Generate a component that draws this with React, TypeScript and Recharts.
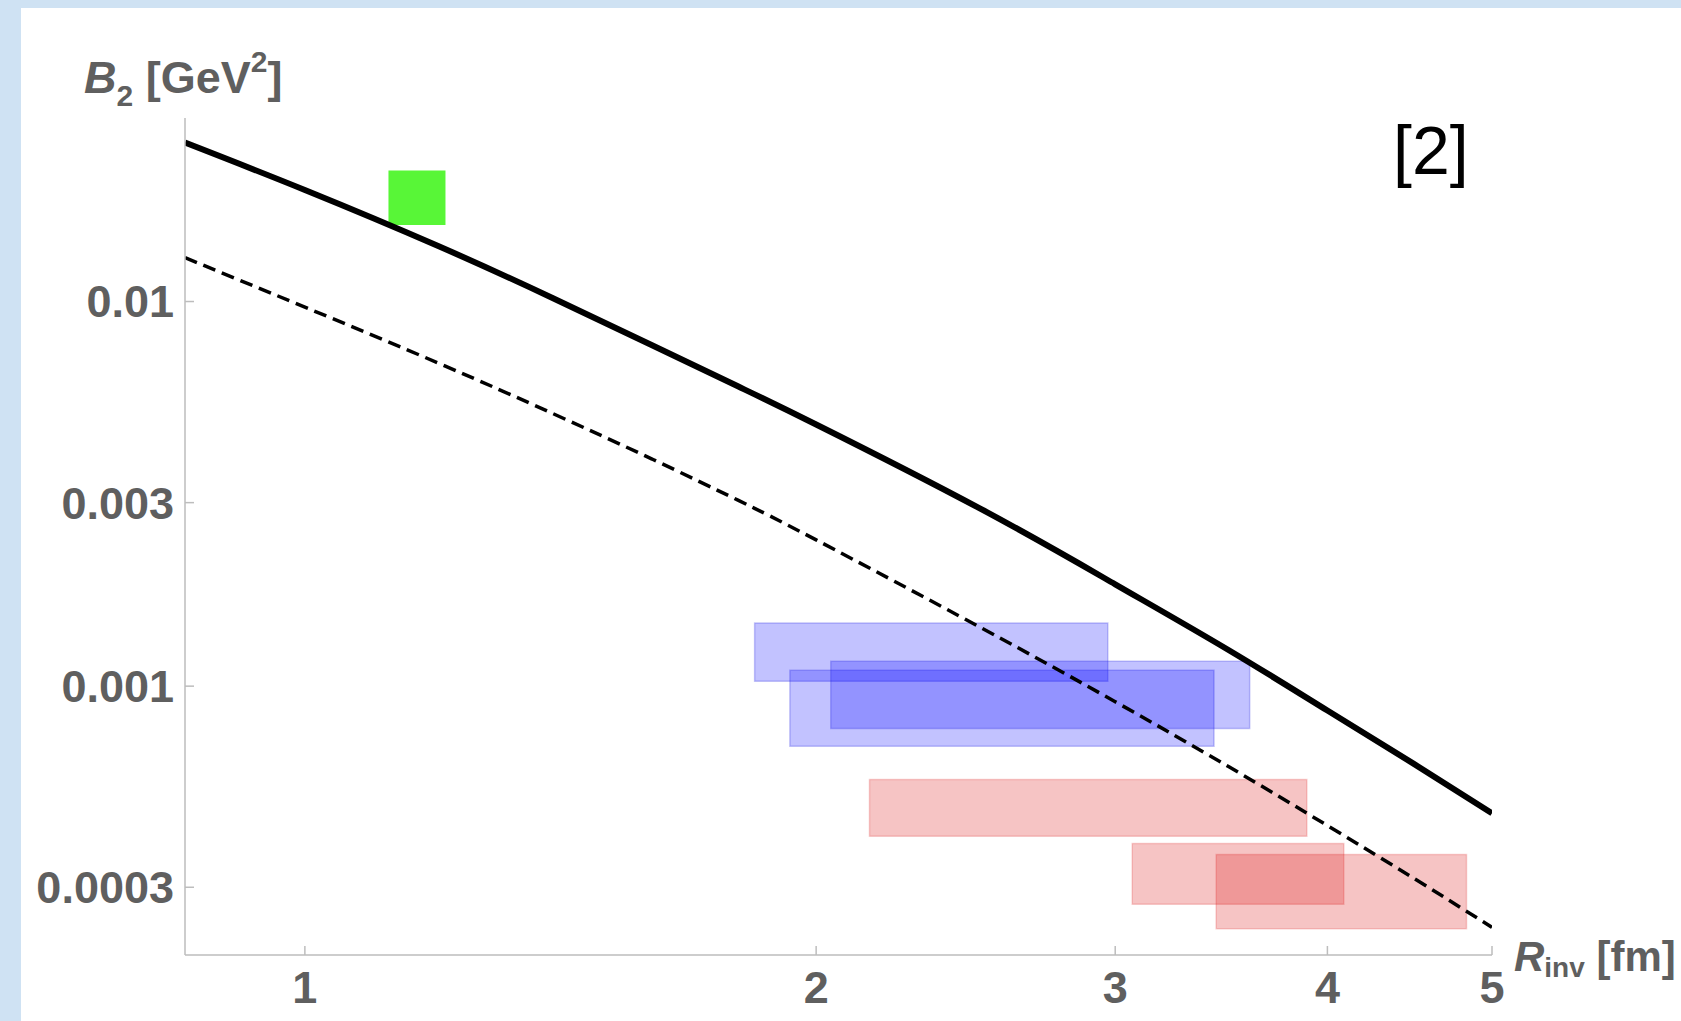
import { ComposedChart, Line, XAxis, YAxis, ReferenceArea, Label } from 'recharts'

// B2 versus R_inv, log–log, with two model curves and measurement boxes.

const FONT = '"Liberation Sans", Arial, sans-serif'
const INK = '#5f5f5f'
const AXIS = '#bdbdbd'

// ─── Data ─────────────────────────────────────────────────────────────────────

const R_INV = [0.85, 1, 1.2, 1.4, 1.6, 1.8, 2, 2.5, 3, 3.5, 4, 4.5, 5]

const B2_SOLID = [
  0.0259, 0.0195, 0.0139, 0.0102, 0.00771, 0.00601, 0.00479, 0.00289, 0.00184,
  0.00124, 0.000864, 0.000627, 0.000467,
]

const B2_DASHED = [
  0.013, 0.00967, 0.0069, 0.00511, 0.0039, 0.00304, 0.0024, 0.00142, 0.000911,
  0.000617, 0.000434, 0.000316, 0.000236,
]

const X_TICKS = [1, 2, 3, 4, 5]
const Y_TICKS = [0.0003, 0.001, 0.003, 0.01]

// [R low, R high, B2 low, B2 high]
const BLUE_BOXES = [
  [1.84, 2.97, 0.00103, 0.00146],
  [1.93, 3.43, 0.000698, 0.0011],
  [2.04, 3.6, 0.000776, 0.00116],
]

const RED_BOXES = [
  [2.15, 3.89, 0.000407, 0.000572],
  [3.07, 4.09, 0.000271, 0.00039],
  [3.44, 4.83, 0.000234, 0.000365],
]

const GREEN_BOX = [1.12, 1.21, 0.0158, 0.0219]

const solidData = R_INV.map((x, i) => ({ x, y: B2_SOLID[i] }))
const dashedData = R_INV.map((x, i) => ({ x, y: B2_DASHED[i] }))

// ─── Axis titles ──────────────────────────────────────────────────────────────

function YTitle(props: any) {
  const vb = props.viewBox
  return (
    <text x={vb.x + 84} y={vb.y - 25} fill={INK} fontFamily={FONT} fontWeight="bold" fontSize={45}>
      <tspan fontStyle="italic">B</tspan>
      <tspan fontSize={30} dy={13}>2</tspan>
      <tspan dy={-13}>{' [GeV'}</tspan>
      <tspan fontSize={30} dy={-21}>2</tspan>
      <tspan dy={21}>]</tspan>
    </text>
  )
}

function XTitle(props: any) {
  const vb = props.viewBox
  return (
    <text x={vb.x + vb.width + 22} y={vb.y + 16} fill={INK} fontFamily={FONT} fontWeight="bold" fontSize={42}>
      <tspan fontStyle="italic">R</tspan>
      <tspan fontSize={28} dy={6}>inv</tspan>
      <tspan dy={-6}>{' [fm]'}</tspan>
    </text>
  )
}

const tickStyle = { fill: INK, fontSize: 45, fontWeight: 'bold', fontFamily: FONT }

// ─── Chart ────────────────────────────────────────────────────────────────────

export default function App() {
  return (
    <div
      style={{
        position: 'absolute',
        left: 0,
        top: 0,
        width: 1681,
        height: 1021,
        background: '#cfe2f3',
        overflow: 'hidden',
      }}
    >
      <div style={{ position: 'absolute', left: 21, top: 8, right: 0, bottom: 0, background: '#fff' }} />
      <div style={{ position: 'absolute', left: 0, top: 0 }}>
        <ComposedChart width={1681} height={1021} margin={{ top: 118, right: 189, bottom: 0, left: 0 }}>
          <XAxis
            dataKey="x"
            type="number"
            scale="log"
            domain={[0.85, 5]}
            allowDataOverflow
            ticks={X_TICKS}
            height={66}
            tick={tickStyle}
            tickSize={-9}
            tickMargin={25}
            stroke={AXIS}
            strokeWidth={1.5}
          >
            <Label content={XTitle} />
          </XAxis>
          <YAxis
            dataKey="y"
            type="number"
            scale="log"
            domain={[0.0002, 0.03]}
            allowDataOverflow
            ticks={Y_TICKS}
            width={185}
            tick={tickStyle}
            tickSize={-9}
            tickMargin={20}
            stroke={AXIS}
            strokeWidth={1.5}
          >
            <Label content={YTitle} />
          </YAxis>

          <Line
            data={solidData}
            dataKey="y"
            type="natural"
            stroke="#000"
            strokeWidth={6}
            dot={false}
            isAnimationActive={false}
          />
          <Line
            data={dashedData}
            dataKey="y"
            type="natural"
            stroke="#000"
            strokeWidth={3.5}
            strokeDasharray="13 7"
            dot={false}
            isAnimationActive={false}
          />

          {BLUE_BOXES.map(([x1, x2, y1, y2], i) => (
            <ReferenceArea
              key={`b${i}`}
              x1={x1}
              x2={x2}
              y1={y1}
              y2={y2}
              fill="#0000ff"
              fillOpacity={0.24}
              stroke="#2020e0"
              strokeOpacity={0.25}
              strokeWidth={1.5}
            />
          ))}
          {RED_BOXES.map(([x1, x2, y1, y2], i) => (
            <ReferenceArea
              key={`r${i}`}
              x1={x1}
              x2={x2}
              y1={y1}
              y2={y2}
              fill="#dc1414"
              fillOpacity={0.25}
              stroke="#dc1414"
              strokeOpacity={0.2}
              strokeWidth={1.5}
            />
          ))}
          <ReferenceArea
            x1={GREEN_BOX[0]}
            x2={GREEN_BOX[1]}
            y1={GREEN_BOX[2]}
            y2={GREEN_BOX[3]}
            fill="#58f637"
            fillOpacity={1}
            stroke="none"
          />
        </ComposedChart>
      </div>
      <svg
        width={1681}
        height={1021}
        style={{ position: 'absolute', left: 0, top: 0, pointerEvents: 'none' }}
      >
        <text x={1393} y={174} fontFamily={FONT} fontSize={68} fill="#000">
          [2]
        </text>
      </svg>
    </div>
  )
}
